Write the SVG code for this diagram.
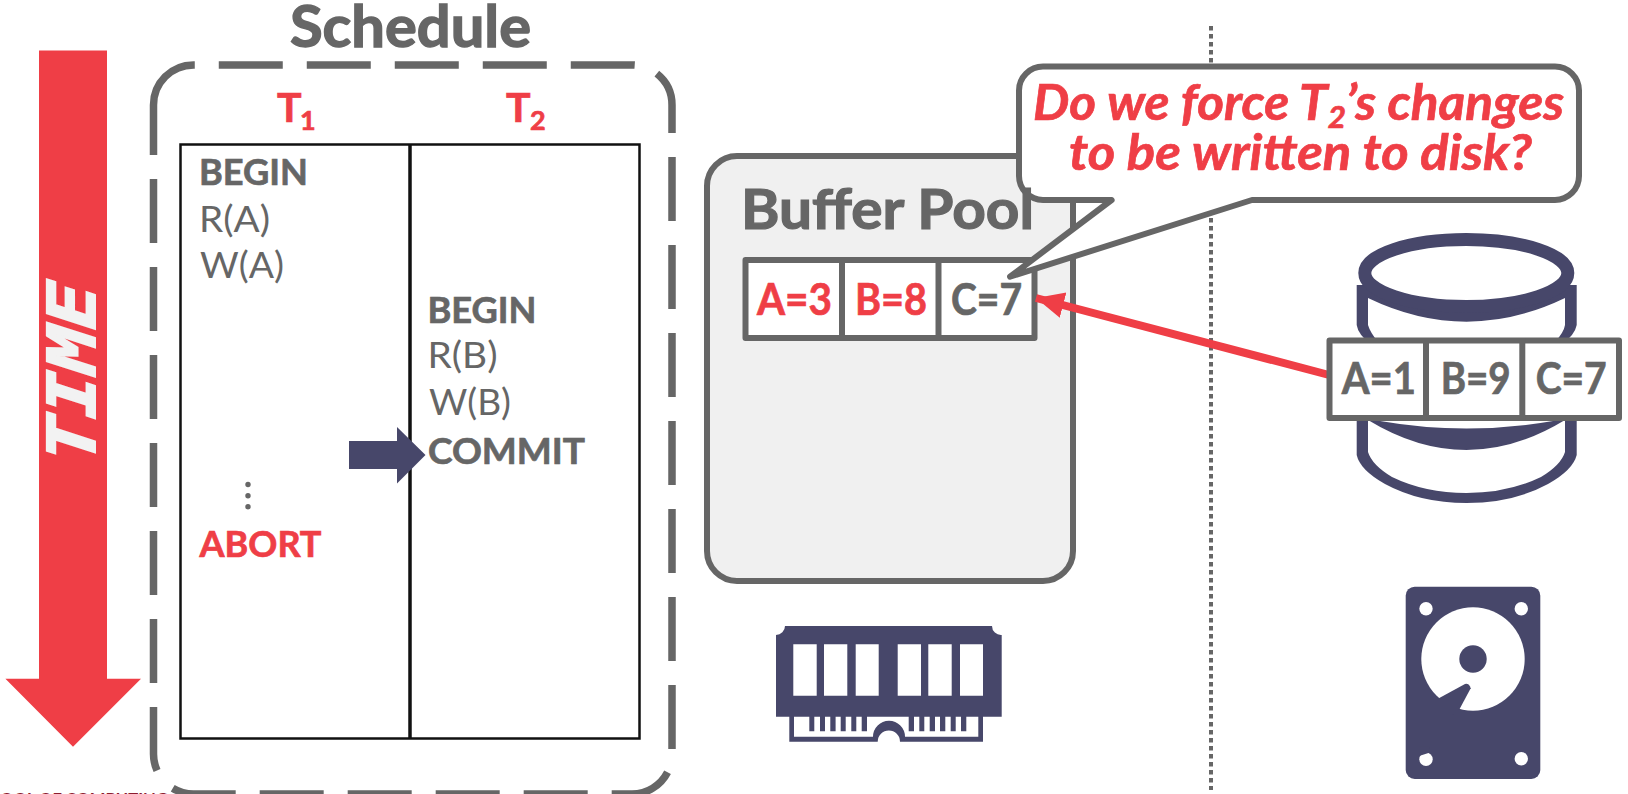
<svg xmlns="http://www.w3.org/2000/svg" width="1628" height="794" viewBox="0 0 1628 794">
<style>
text{font-family:"Lato","Liberation Sans",sans-serif;fill:#666}
.b{font-weight:700;stroke:#666;stroke-width:.7}
.r{fill:#ef3e46;stroke:#ef3e46}
.navy{fill:#47476a}
.wh{fill:#fff}
.cell{fill:#fff;stroke:#666;stroke-width:6;stroke-linejoin:round}
.div{stroke:#666;stroke-width:6;fill:none}
.op{font-size:37px}
.val{font-size:43px}
</style>
<defs>
<marker id="ah" markerUnits="userSpaceOnUse" markerWidth="30" markerHeight="30" refX="28" refY="13" orient="auto">
<path d="M0 0L28 13L0 26Z" fill="#ef3e46"/>
</marker>
</defs>
<g id="time-arrow">
<path d="M39 50.500H107V678.700H141L73 746.700L5.400 678.700H39Z" fill="#ef3e46"/>
<text font-size="66" font-weight="700" font-style="italic" transform="translate(95,464) rotate(-90) skewX(-6)" textLength="179" lengthAdjust="spacingAndGlyphs" style="font-family:'DejaVu Sans Mono',monospace;fill:#f2f2f2;stroke:#f2f2f2;stroke-width:2">TIME</text>
</g>
<g id="schedule">
<text class="b" x="290" y="47" font-size="58" textLength="241" lengthAdjust="spacingAndGlyphs" style="stroke-width:1.4">Schedule</text>
<path d="M153.500 105A40 40 0 0 1 193.500 65H632A40 40 0 0 1 672 105V754A40 40 0 0 1 632 794H193.500A40 40 0 0 1 153.500 754Z" fill="none" stroke="#666" stroke-width="7.500" stroke-dasharray="64 24"/>
<rect x="180.500" y="144.500" width="459" height="594" fill="#fff" stroke="#111" stroke-width="2.500"/>
<line x1="410" y1="144" x2="410" y2="739" stroke="#111" stroke-width="3.500"/>
<text class="b r" x="277" y="121.500" font-size="41">T</text>
<text class="b r" x="300" y="129.500" font-size="27">1</text>
<text class="b r" x="506" y="121.500" font-size="41">T</text>
<text class="b r" x="530" y="129.500" font-size="27">2</text>
<text class="b op" x="199" y="185" textLength="109" lengthAdjust="spacingAndGlyphs">BEGIN</text>
<text class="op" x="199" y="232" textLength="71" lengthAdjust="spacingAndGlyphs">R(A)</text>
<text class="op" x="200" y="278" textLength="84" lengthAdjust="spacingAndGlyphs">W(A)</text>
<text class="b op" x="427.500" y="323" textLength="109" lengthAdjust="spacingAndGlyphs">BEGIN</text>
<text class="op" x="427.500" y="368" textLength="70" lengthAdjust="spacingAndGlyphs">R(B)</text>
<text class="op" x="429" y="415" textLength="82" lengthAdjust="spacingAndGlyphs">W(B)</text>
<text class="b op" x="428" y="464" textLength="157" lengthAdjust="spacingAndGlyphs">COMMIT</text>
<text class="b op r" x="199.500" y="557" textLength="122" lengthAdjust="spacingAndGlyphs">ABORT</text>
<circle cx="248" cy="484.500" r="2.700" fill="#666"/><circle cx="248" cy="495.700" r="2.700" fill="#666"/><circle cx="248" cy="506.700" r="2.700" fill="#666"/>
</g>
<g id="connectors">
<line x1="1211" y1="26" x2="1211" y2="790" stroke="#666" stroke-width="4" stroke-dasharray="4.500 3.500"/>
<path class="navy" d="M349 441H397V427L425.500 455L397 483.500V469H349Z"/>
</g>
<g id="buffer-pool">
<rect x="707" y="156" width="366" height="425" rx="30" fill="#f0f0f0" stroke="#666" stroke-width="6"/>
<rect class="cell" x="745.500" y="260" width="289" height="78"/>
<line class="div" x1="842" y1="258" x2="842" y2="340"/>
<line class="div" x1="938.500" y1="258" x2="938.500" y2="340"/>
<text class="b val r" x="757" y="314.500" textLength="75" lengthAdjust="spacingAndGlyphs">A=3</text>
<text class="b val r" x="855" y="314.500" textLength="72" lengthAdjust="spacingAndGlyphs">B=8</text>
<text class="b val" x="951" y="314.500" textLength="71" lengthAdjust="spacingAndGlyphs">C=7</text>
</g>
<g id="callout">
<path d="M1043 66.500H1555A24 24 0 0 1 1579 90.500V176A24 24 0 0 1 1555 200H1252L1010 276.700L1111.600 200H1043A24 24 0 0 1 1019 176V90.500A24 24 0 0 1 1043 66.500Z" fill="#fff" stroke="#666" stroke-width="6" stroke-linejoin="round"/>
<text class="b r" x="1033" y="119.500" font-size="49" font-style="italic" textLength="531" lengthAdjust="spacingAndGlyphs">Do we force T<tspan font-size="30" dy="8">2</tspan><tspan dy="-8">’s changes</tspan></text>
<text class="b r" x="1069" y="170" font-size="49" font-style="italic" textLength="463" lengthAdjust="spacingAndGlyphs">to be written to disk?</text>
</g>
<text id="buffer-pool-label" class="b" x="741" y="229" font-size="55" textLength="293" lengthAdjust="spacingAndGlyphs" style="stroke-width:1.2">Buffer Pool</text>
<g id="red-connector">
<line x1="1331" y1="375.500" x2="1036" y2="298" stroke="#ef3e46" stroke-width="8" marker-end="url(#ah)"/>
</g>
<g id="disk-db">
<path class="navy" d="M1356.700 285V325Q1358 335 1372 345H1561Q1575 335 1576.700 325V285Z"/>
<path class="wh" d="M1368 298Q1466.500 345.400 1565 298V325Q1564 332 1555 342H1378Q1370 332 1368 325Z"/>
<ellipse cx="1466.300" cy="273" rx="101.500" ry="33.500" fill="#fff" stroke="#47476a" stroke-width="13"/>
<path class="navy" d="M1356.700 415V455Q1360 470 1385 484Q1420 503 1466.500 503Q1513 503 1548 484Q1573 470 1576.700 455V415Z"/>
<path class="wh" d="M1368 420Q1466.500 480 1565 420V452Q1561 465 1541 477Q1508 493 1466.500 493Q1425 493 1392 477Q1372 465 1368 452Z"/>
<path class="wh" d="M1380 415H1553V421Q1466.500 436 1380 421Z"/>
<rect class="cell" x="1329.500" y="340.500" width="289.500" height="77.500"/>
<line class="div" x1="1426" y1="338" x2="1426" y2="420"/>
<line class="div" x1="1522.300" y1="338" x2="1522.300" y2="420"/>
<text class="b val" x="1341.700" y="394" textLength="74.300" lengthAdjust="spacingAndGlyphs">A=1</text>
<text class="b val" x="1440.700" y="394" textLength="70" lengthAdjust="spacingAndGlyphs">B=9</text>
<text class="b val" x="1535.700" y="394" textLength="71" lengthAdjust="spacingAndGlyphs">C=7</text>
</g>
<g id="ram-icon">
<path class="navy" d="M785 626H992A9 9 0 0 0 1001.700 635V716.700H983V741.700H900A11 11 0 0 0 877.700 741.700H789.300V716.700H776V635A9 9 0 0 0 785 626Z"/>
<path class="wh" d="M794 716.700H978.300V736.700H905A15.700 15.700 0 0 0 873 736.700H794Z"/>
<path class="wh" d="M793.300 644.300h23.400v51.400h-23.400ZM824 644.300h23.300v51.400h-23.300ZM855.700 644.300h23v51.400h-23ZM897.700 644.300h23.300v51.400h-23.300ZM928.300 644.300h23.400v51.400h-23.400ZM960 644.300h23v51.400h-23Z"/>
<path class="navy" d="M809.300 716h5v15.300h-5ZM820 716h5v15.300h-5ZM830.300 716h5.300v15.300h-5.300ZM840.700 716h5v15.300h-5ZM851.300 716h5v15.300h-5ZM861.700 716h5.300v15.300h-5.300ZM908.700 716h5.300v15.300h-5.300ZM919.300 716h5v15.300h-5ZM929.700 716h5.300v15.300h-5.300ZM940 716h5.300v15.300h-5.300ZM950.700 716h5v15.300h-5ZM961 716h5.300v15.300h-5.300Z"/>
</g>
<g id="hdd-icon">
<rect class="navy" x="1405.700" y="586.700" width="134.600" height="192.300" rx="9"/>
<circle class="wh" cx="1426" cy="608.700" r="6.700"/>
<circle class="wh" cx="1521.300" cy="608.700" r="6.700"/>
<circle class="wh" cx="1521.300" cy="758.700" r="6.700"/>
<circle class="wh" cx="1426" cy="759.300" r="6.700"/>
<path class="navy" d="M1419 756L1429.300 752.700L1430 746.700H1419Z"/>
<circle class="wh" cx="1473" cy="659" r="51.700"/>
<circle class="navy" cx="1473" cy="659" r="13.700"/>
<path class="navy" d="M1439.300 698L1465 684Q1469 683 1470.700 688.300L1460 708.300L1440 725L1420 715Z"/>
</g>
<text id="footer" x="0" y="803.500" font-size="16" font-weight="700" textLength="168" lengthAdjust="spacingAndGlyphs" style="fill:#8c1d2f">OOL OF COMPUTING</text>
</svg>
